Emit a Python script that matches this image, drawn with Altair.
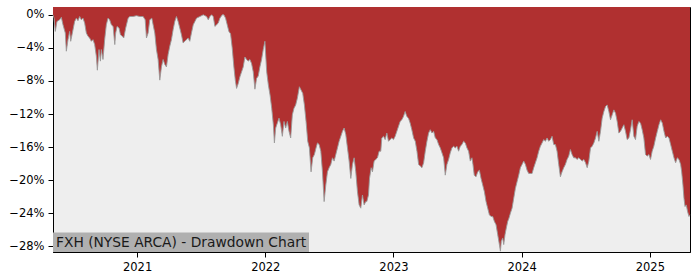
import altair as alt
import pandas as pd

# Decimal-year positions and drawdown values (%)
years_a = [2020.344, 2020.352, 2020.362, 2020.375, 2020.396, 2020.409, 2020.422, 2020.440, 2020.448, 2020.461,
           2020.474, 2020.482, 2020.495, 2020.513, 2020.526, 2020.539, 2020.552, 2020.565, 2020.578, 2020.591,
           2020.604, 2020.617, 2020.630, 2020.643, 2020.656, 2020.669, 2020.682, 2020.690, 2020.703, 2020.714,
           2020.721, 2020.734, 2020.747, 2020.760, 2020.773, 2020.786, 2020.799, 2020.813, 2020.826, 2020.833,
           2020.844, 2020.859, 2020.870, 2020.885, 2020.896, 2020.911, 2020.930, 2020.943, 2020.969, 2020.995]
dd_a = [0.0, -0.4, -2.0, -0.8, -0.6, -0.3, -1.2, -2.2, -4.4, -3.0,
        -2.0, -3.2, -2.2, -0.8, -0.4, -0.7, -0.2, -0.6, -0.4, -1.0,
        -2.2, -2.6, -2.8, -3.2, -3.0, -3.6, -5.0, -6.7, -4.2, -5.6,
        -4.2, -5.4, -3.0, -1.2, -0.4, -0.6, -1.2, -1.4, -3.6, -2.2,
        -1.4, -1.6, -2.4, -2.6, -2.8, -1.6, -0.4, -0.2, -0.2, -0.1]

years_b = [2021.021, 2021.047, 2021.063, 2021.073, 2021.086, 2021.099, 2021.115, 2021.125, 2021.138, 2021.151,
           2021.164, 2021.177, 2021.190, 2021.203, 2021.216, 2021.229, 2021.242, 2021.255, 2021.268, 2021.281,
           2021.294, 2021.307, 2021.320, 2021.333, 2021.346, 2021.359, 2021.372, 2021.385, 2021.398, 2021.411,
           2021.424, 2021.438, 2021.451, 2021.464, 2021.490, 2021.516, 2021.542, 2021.555, 2021.568, 2021.581,
           2021.594, 2021.607, 2021.620, 2021.633, 2021.646, 2021.664, 2021.677, 2021.690, 2021.703, 2021.716,
           2021.729, 2021.742, 2021.755, 2021.766, 2021.776, 2021.789, 2021.802, 2021.815, 2021.828, 2021.841,
           2021.854, 2021.867, 2021.880, 2021.893, 2021.906, 2021.919, 2021.932, 2021.945, 2021.958, 2021.971,
           2021.984, 2021.997]
dd_b = [-0.2, -0.2, -0.6, -2.8, -2.2, -0.6, -0.4, -1.2, -2.2, -4.2,
        -5.4, -7.9, -6.3, -5.4, -6.0, -6.3, -4.8, -3.8, -3.0, -1.8,
        -0.8, -0.2, -0.8, -1.6, -2.4, -3.4, -3.2, -3.0, -2.8, -3.2,
        -2.2, -1.2, -0.8, -0.4, -0.2, 0.0, -0.2, -0.6, -0.2, 0.0,
        -0.2, -1.4, -1.2, -1.0, -0.4, 0.0, 0.0, -0.4, -1.2, -2.0,
        -2.3, -4.0, -6.3, -7.9, -8.9, -8.3, -7.5, -6.9, -6.3, -5.1,
        -5.4, -5.6, -5.4, -5.9, -6.9, -9.0, -7.7, -7.4, -6.3, -5.4,
        -4.2, -3.2]

years_c = [2022.011, 2022.024, 2022.037, 2022.050, 2022.063, 2022.071, 2022.081, 2022.094, 2022.107, 2022.120,
           2022.133, 2022.146, 2022.159, 2022.172, 2022.185, 2022.198, 2022.211, 2022.224, 2022.237, 2022.250,
           2022.266, 2022.279, 2022.292, 2022.305, 2022.318, 2022.331, 2022.344, 2022.357, 2022.370, 2022.383,
           2022.396, 2022.407, 2022.420, 2022.433, 2022.446, 2022.459, 2022.472, 2022.485, 2022.498, 2022.511,
           2022.524, 2022.537, 2022.550, 2022.563, 2022.576, 2022.589, 2022.602, 2022.615, 2022.628, 2022.641,
           2022.654, 2022.667, 2022.680, 2022.693, 2022.706, 2022.719, 2022.732, 2022.745, 2022.758, 2022.771,
           2022.784, 2022.792, 2022.805, 2022.813, 2022.826, 2022.836, 2022.849, 2022.862, 2022.875, 2022.888,
           2022.901, 2022.909, 2022.922, 2022.935, 2022.948, 2022.961, 2022.974, 2022.987]
dd_c = [-6.9, -8.5, -9.7, -11.3, -13.3, -15.5, -13.7, -13.1, -12.5, -13.3,
        -14.7, -12.9, -13.7, -12.9, -14.1, -14.9, -12.1, -11.3, -10.9, -10.1,
        -8.7, -9.1, -9.5, -10.9, -12.9, -15.3, -16.1, -19.0, -17.3, -16.9,
        -16.1, -15.5, -15.7, -16.5, -19.0, -22.6, -20.6, -19.0, -18.5, -18.1,
        -17.3, -17.7, -16.9, -16.1, -15.3, -14.7, -14.1, -13.7, -14.5, -16.1,
        -17.7, -19.8, -18.1, -17.3, -19.0, -21.4, -23.0, -23.4, -21.8, -23.0,
        -22.6, -22.6, -21.8, -19.8, -18.5, -19.0, -17.7, -17.5, -17.3, -16.5,
        -16.5, -14.9, -14.7, -15.1, -14.3, -15.3, -15.1, -14.9]

years_d = [2023.000, 2023.013, 2023.026, 2023.039, 2023.052, 2023.065, 2023.078, 2023.091, 2023.104, 2023.117,
           2023.130, 2023.143, 2023.157, 2023.170, 2023.183, 2023.196, 2023.209, 2023.222, 2023.235, 2023.248,
           2023.261, 2023.274, 2023.287, 2023.300, 2023.313, 2023.326, 2023.339, 2023.352, 2023.365, 2023.378,
           2023.391, 2023.404, 2023.417, 2023.430, 2023.443, 2023.456, 2023.469, 2023.482, 2023.495, 2023.508,
           2023.521, 2023.534, 2023.547, 2023.560, 2023.573, 2023.586, 2023.599, 2023.612, 2023.620, 2023.630,
           2023.644, 2023.657, 2023.670, 2023.683, 2023.696, 2023.709, 2023.722, 2023.735, 2023.748, 2023.761,
           2023.774, 2023.787, 2023.800, 2023.813, 2023.826, 2023.834, 2023.841, 2023.852, 2023.860, 2023.870,
           2023.880, 2023.891, 2023.901, 2023.912, 2023.925, 2023.938, 2023.951, 2023.964, 2023.977, 2023.990]
dd_d = [-15.1, -14.7, -14.1, -13.5, -12.9, -12.7, -12.3, -11.7, -12.3, -12.5,
        -13.1, -13.9, -14.9, -15.3, -16.5, -18.1, -18.3, -18.5, -17.9, -16.5,
        -15.3, -14.3, -13.9, -14.3, -14.1, -14.9, -15.1, -15.7, -16.1, -16.7,
        -17.3, -19.4, -18.1, -17.5, -16.7, -16.1, -15.9, -16.1, -15.9, -16.5,
        -15.9, -15.7, -15.3, -15.5, -16.1, -16.5, -17.7, -17.3, -18.1, -19.4,
        -19.6, -19.0, -18.8, -19.8, -20.6, -21.4, -22.6, -23.4, -24.2, -24.4,
        -24.4, -25.0, -25.4, -26.6, -27.8, -28.6, -27.4, -27.0, -27.8, -26.6,
        -25.8, -25.0, -24.6, -24.0, -23.4, -22.2, -21.0, -20.2, -19.4, -18.5]

years_e = [2024.003, 2024.016, 2024.029, 2024.042, 2024.055, 2024.068, 2024.081, 2024.094, 2024.107, 2024.120,
           2024.133, 2024.146, 2024.159, 2024.172, 2024.185, 2024.198, 2024.211, 2024.224, 2024.237, 2024.250,
           2024.263, 2024.276, 2024.289, 2024.302, 2024.315, 2024.328, 2024.341, 2024.354, 2024.367, 2024.380,
           2024.393, 2024.406, 2024.420, 2024.432, 2024.445, 2024.459, 2024.472, 2024.485, 2024.498, 2024.511,
           2024.524, 2024.537, 2024.550, 2024.563, 2024.576, 2024.589, 2024.602, 2024.615, 2024.628, 2024.641,
           2024.654, 2024.667, 2024.680, 2024.693, 2024.706, 2024.719, 2024.732, 2024.745, 2024.758, 2024.771,
           2024.784, 2024.797, 2024.810, 2024.823, 2024.836, 2024.849, 2024.862, 2024.875, 2024.888, 2024.901,
           2024.914, 2024.927, 2024.940, 2024.953, 2024.966, 2024.979, 2024.992]
dd_e = [-18.1, -17.7, -18.1, -18.8, -19.2, -19.2, -19.2, -18.5, -17.9, -17.3,
        -16.5, -15.9, -15.5, -15.1, -15.3, -14.9, -15.3, -15.1, -14.7, -15.7,
        -15.7, -16.5, -18.1, -19.6, -19.0, -18.5, -18.1, -17.5, -17.1, -16.3,
        -16.9, -17.3, -17.3, -17.5, -17.3, -17.5, -17.7, -17.5, -17.9, -18.5,
        -17.7, -16.1, -15.9, -15.5, -14.9, -14.1, -15.3, -14.1, -12.5, -11.7,
        -11.1, -10.9, -11.7, -12.7, -12.1, -11.5, -11.9, -12.9, -14.3, -14.1,
        -13.7, -13.3, -14.1, -15.1, -14.9, -13.9, -12.7, -14.7, -15.1, -13.5,
        -12.9, -13.1, -13.9, -14.9, -16.9, -17.1, -16.9]

years_f = [2025.005, 2025.018, 2025.031, 2025.045, 2025.058, 2025.071, 2025.084, 2025.097, 2025.110, 2025.123,
           2025.136, 2025.149, 2025.162, 2025.175, 2025.188, 2025.201, 2025.214, 2025.227, 2025.240, 2025.248,
           2025.258, 2025.266, 2025.274, 2025.284, 2025.294, 2025.305, 2025.313]
dd_f = [-17.5, -16.5, -15.9, -14.9, -14.1, -13.3, -12.7, -13.1, -14.1, -14.9,
        -14.7, -14.9, -15.7, -16.5, -17.3, -17.9, -17.3, -17.5, -18.1, -19.0,
        -20.6, -22.2, -23.2, -23.0, -23.8, -24.4, -24.2]

y_ticks = [0, -4, -8, -12, -16, -20, -24, -28]
x_ticks = [2021, 2022, 2023, 2024, 2025]
title_text = "FXH (NYSE ARCA) - Drawdown Chart"

years = years_a + years_b + years_c + years_d + years_e + years_f
dds = dd_a + dd_b + dd_c + dd_d + dd_e + dd_f
assert len(years) == len(dds), (len(years), len(dds))

Y_TOP = 0.95
Y_BOTTOM = -28.7
df = pd.DataFrame({"year": years, "dd": dds, "top": [Y_TOP] * len(years)})

W, H = 637, 245
x_scale = alt.Scale(domain=[years[0], years[-1]], nice=False, zero=False)
y_scale = alt.Scale(domain=[Y_BOTTOM, Y_TOP], nice=False, zero=False)

FONT = "DejaVu Sans"

x_axis = alt.Axis(values=x_ticks, format="d", title=None, grid=False,
                  tickSize=5, labelPadding=4, labelFontSize=11.5, labelOverlap=False,
                  labelColor="black", tickColor="black", domainColor="black")
y_axis = alt.Axis(values=y_ticks, title=None, grid=False, tickSize=5, labelPadding=4,
                  labelFontSize=11.5, labelColor="black", tickColor="black",
                  domainColor="black", labelOverlap=False,
                  labelExpr="datum.value == 0 ? '0%' : '\u2212' + abs(datum.value) + '%'")

area = alt.Chart(df).mark_area(color="#B03030", opacity=1).encode(
    x=alt.X("year:Q", scale=x_scale, axis=x_axis),
    y=alt.Y("dd:Q", scale=y_scale, axis=y_axis),
    y2="top:Q",
)
edge = alt.Chart(df).mark_line(color="#9a9a9a", strokeWidth=0.9).encode(
    x=alt.X("year:Q", scale=x_scale, axis=x_axis),
    y=alt.Y("dd:Q", scale=y_scale, axis=y_axis),
)

lbl = pd.DataFrame({"t": [title_text]})
box = alt.Chart(lbl).mark_rect(color="#B0B0B0").encode(
    x=alt.value(0), x2=alt.value(256), y=alt.value(225.5), y2=alt.value(245)
)
txt = alt.Chart(lbl).mark_text(align="left", baseline="alphabetic", fontSize=13.8,
                               font=FONT, color="#1a1a1a").encode(
    x=alt.value(3), y=alt.value(239.5), text="t:N"
)

chart = alt.layer(area, edge, box, txt).properties(
    width=W, height=H,
    autosize=alt.AutoSizeParams(type="none"),
    padding={"left": 53, "top": 7, "right": 10, "bottom": 28},
    background="white",
).configure_view(
    fill="#EEEEEE", stroke="black", strokeWidth=1
).configure_axis(
    labelFont=FONT, labelOverlap=False
)

chart.save("out.html", embed_options={"renderer": "svg", "actions": False})
